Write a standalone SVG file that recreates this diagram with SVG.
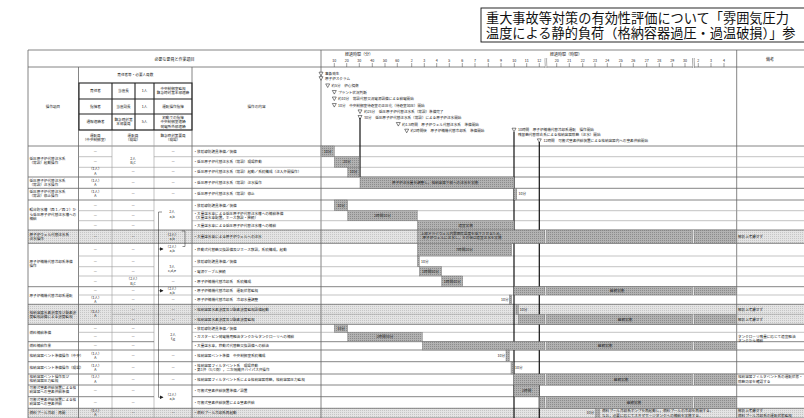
<svg xmlns="http://www.w3.org/2000/svg" xmlns:xlink="http://www.w3.org/1999/xlink" width="804" height="418" viewBox="0 0 804 418">
<style>
.t{font-family:"Noto Sans CJK JP","Noto Sans",sans-serif;font-size:3.6px;fill:#222}
.c{text-anchor:middle}
.e{text-anchor:end}
.h{font-size:4px}
.ttl{font-family:"Liberation Serif","Noto Sans CJK JP",serif;font-size:13.2px;fill:#111}
.bar{fill:url(#dk);stroke:#6f6f6f;stroke-width:0.4}
.lr{fill:url(#lt)}
.gl{stroke:#9a9a9a;stroke-width:0.6;fill:none}
.gk{stroke:#666;stroke-width:0.8;fill:none}
.bx{stroke:#222;stroke-width:1.1;fill:none}
.ev{stroke:#111;stroke-width:1.2;fill:none}
.tk{stroke:#444;stroke-width:0.5}
.cn{stroke:#222;stroke-width:0.5;fill:none}
</style>
<defs>
<pattern id="dk" width="2" height="2" patternUnits="userSpaceOnUse"><rect width="2" height="2" fill="#b2b2b2"/><rect width="1" height="1" fill="#8c8c8c"/></pattern>
<pattern id="lt" width="2" height="2" patternUnits="userSpaceOnUse"><rect width="2" height="2" fill="#e4e4e4"/><rect width="1" height="1" fill="#c6c6c6"/></pattern>
<symbol id="tri" viewBox="-2.2 -2.2 4.4 4.4" overflow="visible"><path d="M-2,-1.8 L2,-1.8 L0,1.8 Z" fill="#fff" stroke="#111" stroke-width="0.5"/></symbol>
<symbol id="brk" viewBox="0 0 4 10" preserveAspectRatio="none"><rect x="0.9" y="0" width="2.2" height="10" fill="#fff"/><path d="M1,0 C0.2,2.5 1.8,7.5 1,10 M3,0 C2.2,2.5 3.8,7.5 3,10" stroke="#333" stroke-width="0.4" fill="none" vector-effect="non-scaling-stroke"/></symbol>
<marker id="ar" viewBox="0 0 4 4" refX="3.5" refY="2" markerWidth="4" markerHeight="4" orient="auto" markerUnits="userSpaceOnUse"><path d="M0,0 L4,2 L0,4 Z" fill="#222"/></marker>
</defs>
<rect width="804" height="418" fill="#fff"/>

<g id="title">
<rect x="481" y="8" width="330" height="34" fill="#fff" stroke="#111" stroke-width="0.9"/>
<text class="ttl" x="486" y="23">重大事故等対策の有効性評価について「雰囲気圧力</text>
<text class="ttl" x="486" y="38">温度による静的負荷（格納容器過圧・過温破損）」参</text>
</g>

<g id="row-shading">
<rect class="lr" x="28" y="230" width="776" height="13.3"/>
<rect class="lr" x="28" y="304.3" width="776" height="20"/>
<rect class="lr" x="28" y="408.3" width="776" height="9.7"/>
</g>

<g id="grid">
<path class="gk" d="M28,50H804M28,67H804M28,146H804M28,418H804"/>
<path class="gk" d="M28,50V418M78.5,67V418M192,67V418M321,50V418M736.7,50V418"/>
<path class="gl" d="M112,130V418M154,130V418"/>
<path class="gl" d="M78.5,130H192"/>
<path class="gk" d="M28,177H804M28,188.3H804M28,200H804M28,230H804M28,243.3H804M28,286.7H804M28,304.3H804M28,324.3H804M28,350H804M28,361.7H804M28,374H804M28,385H804M28,408.3H804M28,341.7H154M192,341.7H804M28,396.7H154M192,396.7H804"/>
<path class="gl" d="M78.5,156.7H112M154,156.7H804M78.5,167.3H804M78.5,210.7H154M192,210.7H804M78.5,220.7H154M192,220.7H804M78.5,256H804M78.5,266.7H154M192,266.7H804M78.5,276H804M78.5,295H804M112,314.3H804M78.5,332.3H154M192,332.3H804"/>
</g>

<g id="header">
<text class="t c h" x="174.5" y="60.5">必要な要員と作業項目</text>
<text class="t c h" x="359" y="55.5">経過時間（分）</text>
<text class="t c h" x="566" y="55.5">経過時間（時間）</text>
<text class="t c h" x="770" y="60.5">備考</text>
<g class="t c">
<text x="334.3" y="61.8">10</text><text x="346.7" y="61.8">20</text><text x="359.3" y="61.8">30</text><text x="372.3" y="61.8">40</text><text x="385" y="61.8">50</text><text x="397.3" y="61.8">60</text>
<text x="411.7" y="61.8">2</text><text x="424.3" y="61.8">3</text><text x="436.7" y="61.8">4</text><text x="449.3" y="61.8">5</text><text x="462.3" y="61.8">6</text><text x="475" y="61.8">7</text><text x="488.3" y="61.8">8</text><text x="501" y="61.8">9</text><text x="514.3" y="61.8">10</text><text x="526.7" y="61.8">11</text><text x="539.3" y="61.8">12</text>
<text x="556.7" y="61.8">20</text><text x="569.3" y="61.8">21</text><text x="582.7" y="61.8">22</text><text x="595" y="61.8">23</text><text x="607.3" y="61.8">24</text><text x="620.7" y="61.8">25</text><text x="633.3" y="61.8">26</text><text x="646.7" y="61.8">27</text><text x="659.3" y="61.8">28</text><text x="672.3" y="61.8">29</text><text x="685" y="61.8">30</text>
<text x="698.3" y="61.8">2</text><text x="711" y="61.8">3</text><text x="724" y="61.8">4</text>
</g>
<path class="tk" d="M334.3,63V67M346.7,63V67M359.3,63V67M372.3,63V67M385,63V67M397.3,63V67M411.7,63V67M424.3,63V67M436.7,63V67M449.3,63V67M462.3,63V67M475,63V67M488.3,63V67M501,63V67M514.3,63V67M526.7,63V67M539.3,63V67M556.7,63V67M569.3,63V67M582.7,63V67M595,63V67M607.3,63V67M620.7,63V67M633.3,63V67M646.7,63V67M659.3,63V67M672.3,63V67M685,63V67M698.3,63V67M711,63V67M724,63V67"/>
<use href="#brk" x="544.2" y="58" width="3.4" height="10"/>
<use href="#brk" x="691.8" y="58" width="3.4" height="10"/>

<text class="t c" x="53" y="108.3">操作項目</text>
<text class="t c" x="135.3" y="76.3">責任者等・必要人員数</text>
<text class="t c" x="256.5" y="108.3">操作の内容</text>
<rect class="bx" x="79" y="83" width="113" height="47"/>
<path class="bx" d="M79,99H192M79,114H192M112,83V130M135,83V130M154,83V130" stroke-width="0.8"/>
<g class="t c">
<text x="95.5" y="92.3">責任者</text><text x="123.5" y="92.3">当直長</text><text x="144.5" y="92.3">1人</text>
<text x="173" y="90.2">中央制御室監視</text><text x="173" y="94.4">緊急時対策本部連絡</text>
<text x="95.5" y="107.8">指揮者</text><text x="123.5" y="107.8">当直副長</text><text x="144.5" y="107.8">1人</text>
<text x="173" y="107.8">運転操作指揮</text>
<text x="95.5" y="123.3">通報連絡者</text><text x="123.5" y="121.2">緊急時対策</text><text x="123.5" y="125.4">本部要員</text><text x="144.5" y="123.3">5人</text>
<text x="173" y="119.1">初動での指揮</text><text x="173" y="123.3">中央制御室連絡</text><text x="173" y="127.5">発電所外部連絡</text>
<text x="95.3" y="137">運転員</text><text x="95.3" y="141.3">（中央制御室）</text>
<text x="133" y="137">運転員</text><text x="133" y="141.3">（現場）</text>
<text x="173" y="137">緊急時対策要員</text><text x="173" y="141.3">（現場）</text>
</g>
</g>

<g id="events" class="t">
<use href="#tri" x="318.8" y="71.8" width="4.4" height="4.4"/><text x="325" y="75.3">事象発生</text>
<use href="#tri" x="318.8" y="76.3" width="4.4" height="4.4"/><text x="325" y="79.8">原子炉スクラム</text>
<use href="#tri" x="325.5" y="83.5" width="4.4" height="4.4"/><text x="331.5" y="87">約5分　炉心損傷</text>
<use href="#tri" x="332.1" y="90.1" width="4.4" height="4.4"/><text x="338" y="93.6">プラント状況判断</text>
<use href="#tri" x="332.1" y="96.6" width="4.4" height="4.4"/><text x="338" y="100.1">約10分　常設代替交流電源設備による給電開始</text>
<use href="#tri" x="332.1" y="103.1" width="4.4" height="4.4"/><text x="338" y="106.6">10分　中央制御室待避室の正圧化（待避室加圧）開始</text>
<use href="#tri" x="357.8" y="109.5" width="4.4" height="4.4"/><text x="364" y="113">約25分　低圧原子炉代替注水系（常設）準備完了</text>
<use href="#tri" x="357.8" y="115.1" width="4.4" height="4.4"/><text x="364" y="118.6">30分　低圧原子炉代替注水系（常設）による原子炉注水開始</text>
<use href="#tri" x="396.1" y="122.1" width="4.4" height="4.4"/><text x="402" y="125.6">約1.5時間　原子炉ウェル代替注水系　準備開始</text>
<use href="#tri" x="404.5" y="128.8" width="4.4" height="4.4"/><text x="410.5" y="132.3">約2時間後　原子炉補機代替冷却系　準備開始</text>
<use href="#tri" x="511.8" y="127.8" width="4.4" height="4.4"/><text x="518" y="131.3">10時間　原子炉補機代替冷却系運転　操作開始</text><text x="518" y="135.5">残留熱代替除去系による格納容器除熱（注水）開始</text>
<use href="#tri" x="537.1" y="138.5" width="4.4" height="4.4"/><text x="543.5" y="142">12時間　可搬式窒素供給装置による格納容器内への窒素供給開始</text>
</g>

<g id="connectors">
<path class="ev" d="M360,118V177" stroke-width="0.9"/>
<path class="ev" d="M514,132V418"/>
<path class="ev" d="M539.3,142V418"/>
<path class="cn" d="M162,212H158.5V397.3H163" marker-end="url(#ar)"/>
<path class="cn" d="M158.5,249H163" marker-end="url(#ar)"/>
<path class="cn" d="M158.5,290.7H163" marker-end="url(#ar)"/>
<path class="cn" d="M181.7,231H185V246.5H182.5"/>
</g>

<g id="col-items" class="t">
<text x="29.5" y="159.6">低圧原子炉代替注水系</text><text x="29.5" y="163.8">（常設）起動操作</text>
<text x="29.5" y="181.6">低圧原子炉代替注水系</text><text x="29.5" y="185.8">（常設）注水操作</text>
<text x="29.5" y="193">低圧原子炉代替注水系</text><text x="29.5" y="197.2">（常設）停止操作</text>
<text x="29.5" y="211.3">輪谷貯水槽（西１／西２）か</text><text x="29.5" y="215.5">ら低圧原子炉代替注水槽への</text><text x="29.5" y="219.7">補給</text>
<text x="29.5" y="235.6">原子炉ウェル代替注水系</text><text x="29.5" y="239.8">注水操作</text>
<text x="29.5" y="263">原子炉補機代替冷却系準備</text><text x="29.5" y="267.2">操作</text>
<text x="29.5" y="296.8">原子炉補機代替冷却系運転</text>
<text x="29.5" y="313.5">格納容器水素濃度及び酸素濃</text><text x="29.5" y="317.7">度監視設備による濃度監視</text>
<text x="29.5" y="334.3">燃料補給準備</text>
<text x="29.5" y="347.2">燃料補給作業</text>
<text x="29.5" y="357.1">格納容器ベント準備操作（中央）</text>
<text x="29.5" y="369.1">格納容器ベント準備操作（現場）</text>
<text x="29.5" y="377.8">格納容器ベント操作及び</text><text x="29.5" y="382">格納容器圧力監視</text>
<text x="29.5" y="389.2">可搬式窒素供給装置による格</text><text x="29.5" y="393.4">納容器への窒素供給準備</text>
<text x="29.5" y="400.8">可搬式窒素供給装置による格</text><text x="29.5" y="405">納容器への窒素供給</text>
<text x="29.5" y="414.4">燃料プール冷却　再開</text>
</g>

<g id="staff" class="t c">
<text x="95.3" y="152.6">—</text><text x="95.3" y="163.3">—</text><text x="95.3" y="170.4">（1人）</text><text x="95.3" y="174.6">A</text>
<text x="133" y="159.8">2人</text><text x="133" y="164">B,C</text><text x="133" y="173.4">—</text>
<text x="173" y="152.6">—</text><text x="173" y="163.3">—</text><text x="173" y="173.4">—</text>
<text x="95.3" y="181.5">（1人）</text><text x="95.3" y="185.7">A</text><text x="133" y="183.9">—</text><text x="173" y="183.9">—</text>
<text x="95.3" y="193">（1人）</text><text x="95.3" y="197.2">A</text><text x="133" y="195.4">—</text><text x="173" y="195.4">—</text>
<text x="95.3" y="206.6">—</text><text x="95.3" y="217">—</text><text x="95.3" y="226.6">—</text>
<text x="133" y="206.6">—</text><text x="133" y="217">—</text><text x="133" y="226.6">—</text>
<text x="172" y="213.3">2人</text><text x="172" y="217.5">a,b</text>
<text x="95.3" y="237.9">—</text><text x="133" y="237.9">—</text><text x="172" y="235.8">（2人）</text><text x="172" y="240">a,b</text>
<text x="95.3" y="251">—</text><text x="95.3" y="262.6">—</text><text x="95.3" y="272.6">—</text><text x="95.3" y="282.6">—</text>
<text x="133" y="251">—</text><text x="133" y="262.6">—</text><text x="133" y="272.6">—</text><text x="133" y="280.4">（2人）</text><text x="133" y="284.6">B,C</text>
<text x="172" y="247.6">（2人）</text><text x="172" y="251.8">a,b</text>
<text x="172" y="268.2">3人</text><text x="172" y="272.4">c,d,e</text><text x="173" y="282.6">—</text>
<text x="95.3" y="292.1">—</text><text x="95.3" y="298.5">（1人）</text><text x="95.3" y="302.7">A</text>
<text x="133" y="292.1">—</text><text x="133" y="301">—</text>
<text x="172" y="290">（2人）</text><text x="172" y="294">a,b</text><text x="173" y="301">—</text>
<text x="95.3" y="313.1">（1人）</text><text x="95.3" y="317.3">A</text>
<text x="133" y="310.6">—</text><text x="133" y="320.6">—</text><text x="173" y="310.6">—</text><text x="173" y="320.6">—</text>
<text x="95.3" y="329.6">—</text><text x="95.3" y="338.3">—</text><text x="95.3" y="347.2">—</text>
<text x="133" y="329.6">—</text><text x="133" y="338.3">—</text><text x="133" y="347.2">—</text>
<text x="173" y="336">2人</text><text x="173" y="340.2">f,g</text>
<text x="95.3" y="354.8">（1人）</text><text x="95.3" y="359">A</text><text x="133" y="357.1">—</text><text x="173" y="357.1">—</text>
<text x="95.3" y="366.8">（1人）</text><text x="95.3" y="371">A</text><text x="133" y="369.1">—</text><text x="173" y="369.1">—</text>
<text x="95.3" y="378.4">（1人）</text><text x="95.3" y="382.6">A</text><text x="133" y="380.8">—</text><text x="173" y="380.8">—</text>
<text x="95.3" y="392.1">—</text><text x="133" y="392.1">—</text><text x="95.3" y="403.8">—</text><text x="133" y="403.8">—</text>
<text x="172" y="395.5">（2人）</text><text x="172" y="399.7">a,b</text>
<text x="95.3" y="412">（1人）</text><text x="95.3" y="416.2">A</text><text x="133" y="414.4">—</text><text x="173" y="414.4">—</text>
</g>

<g id="tasks" class="t">
<text x="193.5" y="152.6">・放射線防護具準備／装備</text>
<text x="193.5" y="163.3">・低圧原子炉代替注水系（常設）現場移動</text>
<text x="193.5" y="173.4">・低圧原子炉代替注水系（常設）起動／系統構成（注入弁開操作）</text>
<text x="193.5" y="183.9">・低圧原子炉代替注水系（常設）注水操作</text>
<text x="193.5" y="195.4">・低圧原子炉代替注水系（常設）停止</text>
<text x="193.5" y="206.6">・放射線防護具準備／装備</text>
<text x="193.5" y="214.8">・大量送水車による低圧原子炉代替注水槽への補給準備</text>
<text x="193.5" y="219">（大量送水車配置，ホース敷設・接続）</text>
<text x="193.5" y="226.6">・大量送水車による低圧原子炉代替注水槽への補給</text>
<text x="193.5" y="237.9">・大量送水車による原子炉ウェルへの注水</text>
<text x="193.5" y="251">・移動式代替熱交換設備及びホース敷設，系統構成，起動</text>
<text x="193.5" y="262.6">・放射線防護具準備／装備</text>
<text x="193.5" y="272.6">・電源ケーブル接続</text>
<text x="193.5" y="282.6">・原子炉補機代替冷却系　系統構成</text>
<text x="193.5" y="292.1">・原子炉補機代替冷却系　運転状態監視</text>
<text x="193.5" y="301">・原子炉補機代替冷却系　冷却水量調整</text>
<text x="193.5" y="310.6">・格納容器水素濃度及び酸素濃度監視設備起動</text>
<text x="193.5" y="320.6">・格納容器水素濃度及び酸素濃度監視</text>
<text x="193.5" y="329.6">・放射線防護具準備／装備</text>
<text x="193.5" y="338.3">・ガスタービン発電機用軽油タンクからタンクローリへの補給</text>
<text x="193.5" y="347.2">・大量送水車，移動式代替熱交換設備への給油</text>
<text x="193.5" y="357.1">・格納容器ベント準備　中央制御室系統構成</text>
<text x="193.5" y="366.8">・格納容器フィルタベント系　現場移動</text>
<text x="193.5" y="371">・第1弁（S/C側），二次隔離弁バイパス弁操作</text>
<text x="193.5" y="380.8">・格納容器フィルタベント系による格納容器除熱，格納容器圧力監視</text>
<text x="193.5" y="392.1">・可搬式窒素供給装置準備／設置</text>
<text x="193.5" y="403.8">・可搬式窒素供給装置による窒素供給</text>
<text x="193.5" y="414.4">・燃料プール冷却系再起動</text>
</g>

<g id="bars">
<rect class="bar" x="321" y="146" width="13.3" height="10.7"/>
<rect class="bar" x="334.3" y="156.7" width="25" height="10.6"/>
<rect class="bar" x="347.7" y="167.3" width="11.6" height="9.7"/>
<rect class="bar" x="360" y="177" width="154" height="11.3"/>
<rect class="bar" x="514" y="188.3" width="2.7" height="11.7"/>
<rect class="bar" x="334.3" y="200" width="13.4" height="10.7"/>
<rect class="bar" x="347.7" y="210.7" width="69.6" height="10"/>
<rect class="bar" x="417.3" y="220.7" width="96.7" height="9.3"/>
<rect class="bar" x="417.3" y="230" width="319.4" height="13.3"/>
<rect class="bar" x="417.3" y="243.3" width="94.4" height="12.7"/>
<rect class="bar" x="417.3" y="256" width="2" height="10.7"/>
<rect class="bar" x="419.3" y="266.7" width="22.4" height="9.3"/>
<rect class="bar" x="441.7" y="276" width="21" height="10.7"/>
<rect class="bar" x="514" y="286.7" width="222.7" height="8.3"/>
<rect class="bar" x="509.3" y="295" width="2.4" height="9.3"/>
<rect class="bar" x="516" y="304.3" width="2.3" height="10"/>
<rect class="bar" x="518.3" y="314.3" width="218.4" height="10"/>
<rect class="bar" x="334.3" y="324.3" width="13.4" height="8"/>
<rect class="bar" x="347.7" y="332.3" width="74.6" height="9.4"/>
<rect class="bar" x="422.3" y="341.7" width="314.4" height="8.3"/>
<rect class="bar" x="506" y="350" width="3.3" height="11.7"/>
<rect class="bar" x="511" y="361.7" width="2.3" height="12.3"/>
<rect class="bar" x="513.3" y="374" width="223.4" height="11"/>
<rect class="bar" x="514" y="385" width="25.3" height="11.7"/>
<rect class="bar" x="539.3" y="396.7" width="197.4" height="11.6"/>
<rect class="bar" x="595.5" y="408.3" width="4" height="9.7"/>
<use href="#brk" x="544" y="230" width="3.4" height="13.3"/><use href="#brk" x="691.6" y="230" width="3.4" height="13.3"/>
<use href="#brk" x="544" y="286.7" width="3.4" height="8.3"/><use href="#brk" x="691.6" y="286.7" width="3.4" height="8.3"/>
<use href="#brk" x="544" y="314.3" width="3.4" height="10"/><use href="#brk" x="691.6" y="314.3" width="3.4" height="10"/>
<use href="#brk" x="544" y="341.7" width="3.4" height="8.3"/><use href="#brk" x="691.6" y="341.7" width="3.4" height="8.3"/>
<use href="#brk" x="544" y="374" width="3.4" height="11"/><use href="#brk" x="691.6" y="374" width="3.4" height="11"/>
<use href="#brk" x="544" y="396.7" width="3.4" height="11.6"/><use href="#brk" x="691.6" y="396.7" width="3.4" height="11.6"/>
</g>

<g id="bar-labels" class="t">
<text class="c" x="327.7" y="152.6">10分</text>
<text class="c" x="346.8" y="163.3">20分</text>
<text class="c" x="353.5" y="173.4">10分</text>
<text class="c" x="435" y="183.9">原子炉注水量を調整し，格納容器下部への注水を実施</text>
<text x="518.5" y="195.4">10分</text>
<text class="c" x="341" y="206.6">10分</text>
<text class="c" x="382.5" y="217">2時間10分</text>
<text class="c" x="465.6" y="226.6">適宜実施</text>
<text class="c" x="462" y="235.2">上部ドライウェル内雰囲気温度を低下させるため，</text>
<text class="c" x="462" y="239.4">原子炉ウェルに注水し，その後は適宜注水を実施</text>
<text class="c" x="464.5" y="251">7時間20分</text>
<text x="421" y="262.6">10分</text>
<text class="c" x="430.5" y="272.6">1時間50分</text>
<text class="c" x="452.2" y="282.6">1時間40分</text>
<text class="c" x="617" y="292.1">継続実施</text>
<text class="e" x="508.5" y="301">10分</text>
<text x="519.8" y="310.6">10分</text>
<text class="c" x="625" y="320.6">継続実施</text>
<text class="c" x="341" y="329.6">10分</text>
<text class="c" x="385" y="338.3">2時間30分</text>
<text class="c" x="605" y="347.2">継続実施</text>
<text class="e" x="505" y="357.1">10分</text>
<text x="515" y="369.1">10分</text>
<text class="c" x="621" y="380.8">継続実施</text>
<text class="c" x="526.7" y="392.1">2時間</text>
<text class="c" x="634" y="403.8">継続実施</text>
<text class="e" x="594" y="414.4">10分</text>
<text x="602" y="412.3">燃料プール冷却系ポンプを再起動し，燃料プールの冷却を再開する。</text>
<text x="602" y="416.5">なお，必要に応じてスキマサージタンクへの補給を実施する。</text>
</g>

<g id="remarks" class="t">
<text x="738" y="237.9">解析上考慮せず</text>
<text x="738" y="310.6">解析上考慮せず</text>
<text x="738" y="320.6">解析上考慮せず</text>
<text x="738" y="338">タンクローリ残量に応じて適宜軽油</text>
<text x="738" y="342.2">タンクから補給</text>
<text x="738" y="378.4">格納容器フィルタベント系の運転状態・</text>
<text x="738" y="382.6">除熱効果を確認する</text>
<text x="738" y="412.3">解析上考慮せず</text>
<text x="738" y="416.5">燃料プール冷却系の運転状態監視</text>
</g>
</svg>
